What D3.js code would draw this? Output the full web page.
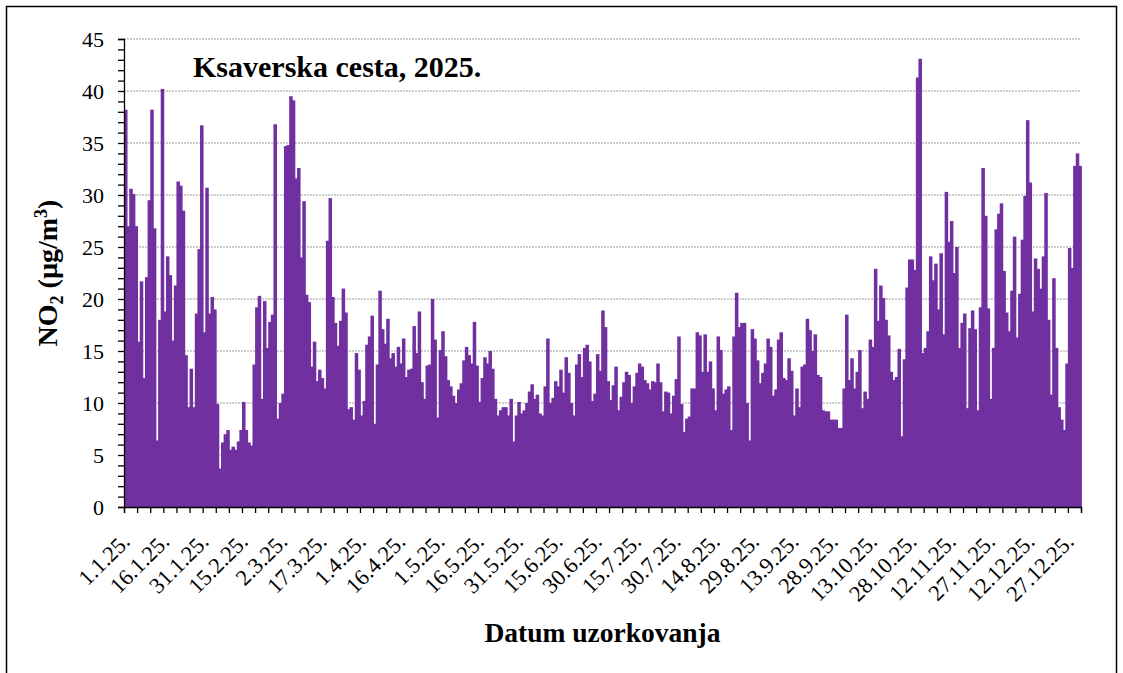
<!DOCTYPE html>
<html>
<head>
<meta charset="utf-8">
<script src="https://cdn.jsdelivr.net/npm/d3@7"></script>
<style>
  body { margin: 0; background: #fff; }
  svg { display: block; font-family: "Liberation Serif", "Times New Roman", serif; }
</style>
</head>
<body>
<script>
// daily NO2 values (µg/m3), one array per month
const jan = [38.2, 27.0, 30.6, 30.1, 27.0, 15.9, 21.7, 12.4, 22.1, 29.5, 38.2, 26.8, 6.4, 18.0, 40.2, 18.8,
  24.1, 22.3, 16.0, 21.3, 31.3, 30.9, 28.5, 14.6, 9.6, 13.3, 9.6, 18.6, 24.8, 36.7, 16.8];
const feb = [30.7, 18.6, 20.2, 19.0, 9.9, 3.7, 6.2, 7.0, 7.4, 5.5, 5.8, 5.5, 6.3, 7.4, 10.1, 7.4, 6.2, 5.9,
  13.7, 19.2, 20.3, 10.4, 19.8, 15.3, 17.8, 18.5, 36.8, 8.5];
const mar = [10.0, 10.9, 34.7, 34.8, 39.5, 39.1, 31.6, 32.6, 24.0, 29.4, 20.4, 19.7, 13.5, 15.9, 12.1, 13.2,
  12.4, 11.4, 25.6, 29.7, 20.2, 17.7, 15.5, 17.9, 21.0, 18.7, 9.4, 9.6, 8.4, 14.8, 13.2];
const apr = [8.8, 10.2, 15.6, 16.4, 18.4, 8.0, 13.7, 20.8, 17.1, 15.7, 18.1, 14.3, 14.8, 13.5, 15.4, 13.8,
  16.2, 12.5, 13.2, 13.3, 17.4, 14.8, 18.8, 12.0, 10.4, 13.6, 13.7, 20.0, 16.1, 8.6];
const may = [15.1, 16.9, 14.5, 12.2, 11.6, 10.7, 10.0, 11.3, 11.9, 14.1, 15.4, 14.6, 13.8, 17.8, 13.6, 10.1,
  12.4, 14.4, 13.8, 15.0, 13.3, 10.4, 8.8, 9.3, 9.6, 9.6, 8.8, 10.4, 6.3, 8.8, 10.1];
const jun = [9.0, 9.3, 10.0, 11.1, 11.8, 10.4, 10.8, 9.0, 8.8, 11.6, 16.2, 10.0, 10.5, 12.1, 11.6, 13.2,
  11.0, 14.4, 12.9, 10.0, 8.8, 13.7, 14.7, 12.5, 15.3, 15.6, 14.0, 10.2, 10.9, 14.7];
const jul = [13.1, 18.9, 17.3, 12.1, 10.3, 11.7, 13.5, 9.3, 10.6, 12.0, 13.0, 12.7, 10.0, 11.6, 12.9, 13.8,
  13.5, 12.2, 11.9, 11.3, 12.1, 12.0, 13.8, 12.0, 9.2, 11.1, 11.0, 9.0, 10.7, 12.3, 16.4];
const aug = [9.9, 7.2, 8.5, 8.7, 11.4, 11.4, 16.8, 16.5, 13.0, 16.6, 13.0, 14.0, 11.4, 9.3, 16.4, 15.1,
  10.9, 11.3, 11.6, 7.4, 16.4, 20.6, 17.3, 17.7, 17.7, 10.0, 6.4, 17.1, 16.2, 14.1, 11.9];
const sep = [12.9, 13.8, 16.2, 15.4, 10.7, 11.3, 16.1, 16.8, 12.4, 12.2, 14.3, 13.1, 8.8, 11.4, 9.6, 13.5,
  13.7, 18.1, 17.0, 15.0, 16.6, 12.7, 12.5, 9.3, 9.2, 9.2, 8.4, 8.4, 8.4, 7.6];
const oct = [7.6, 11.4, 18.5, 12.2, 14.3, 11.4, 13.0, 15.1, 9.5, 11.1, 10.4, 16.1, 15.4, 22.9, 17.9, 21.3,
  20.1, 18.0, 16.5, 13.0, 12.2, 12.5, 15.2, 6.8, 14.2, 21.1, 23.8, 23.8, 22.8, 41.3, 43.1];
const nov = [14.8, 15.3, 16.9, 24.1, 21.8, 23.4, 19.0, 24.4, 16.6, 30.3, 25.5, 27.5, 22.5, 25.0, 15.3, 17.7,
  18.6, 9.5, 17.2, 18.9, 17.1, 9.3, 19.2, 32.6, 28.0, 19.1, 10.4, 15.3, 26.7, 28.2];
const dec = [29.2, 22.7, 18.7, 16.9, 20.8, 26.0, 16.3, 20.5, 25.7, 29.9, 37.2, 31.2, 18.8, 23.9, 22.9, 21.0,
  24.1, 30.2, 18.0, 10.8, 22.0, 15.3, 9.6, 8.4, 7.4, 13.8, 24.9, 23.0, 32.8, 34.0, 32.8];

const tickLabels = ["1.1.25.", "16.1.25.", "31.1.25.", "15.2.25.", "2.3.25.", "17.3.25.", "1.4.25.",
  "16.4.25.", "1.5.25.", "16.5.25.", "31.5.25.", "15.6.25.", "30.6.25.", "15.7.25.", "30.7.25.",
  "14.8.25.", "29.8.25.", "13.9.25.", "28.9.25.", "13.10.25.", "28.10.25.", "12.11.25.", "27.11.25.",
  "12.12.25.", "27.12.25."];
const yTicks = [0, 5, 10, 15, 20, 25, 30, 35, 40, 45];

const values = [jan, feb, mar, apr, may, jun, jul, aug, sep, oct, nov, dec].flat();
const fmt = d3.timeFormat("%-d.%-m.%y.");
const categories = d3.timeDay.range(new Date(2025, 0, 1), new Date(2026, 0, 1)).map(fmt);
const data = categories.map((c, i) => ({ date: c, value: values[i] }));

const w = 1123, h = 673;
const plotLeft = 124, plotRight = 1081, plotTop = 39, plotBottom = 507;

const svg = d3.select("body").append("svg")
  .attr("width", w)
  .attr("height", h);

// outer chart border
svg.append("rect")
  .attr("x", 6.5).attr("y", 6.5)
  .attr("width", 1110).attr("height", 700)
  .attr("fill", "none")
  .attr("stroke", "#000")
  .attr("stroke-width", 1.5);

const x = d3.scaleBand().domain(categories).range([plotLeft, plotRight]).padding(0);
const xi = d3.scaleLinear().domain([0, categories.length]).range([plotLeft, plotRight]);
const y = d3.scaleLinear().domain([0, 45]).range([plotBottom, plotTop]);

// gridlines
svg.append("g")
  .selectAll("line")
  .data(yTicks.filter(d => d > 0))
  .enter()
    .append("line")
    .attr("x1", plotLeft).attr("x2", plotRight)
    .attr("y1", d => y(d)).attr("y2", d => y(d))
    .attr("stroke", "#bdbdbd")
    .attr("stroke-width", 1.5)
    .attr("stroke-dasharray", "2,1");

// bars (slight overlap so neighbouring bars leave no seams)
svg.append("g")
  .selectAll("rect")
  .data(data)
  .enter()
    .append("rect")
    .attr("x", d => x(d.date))
    .attr("y", d => y(d.value))
    .attr("width", x.bandwidth() + 0.9)
    .attr("height", d => y(0) - y(d.value))
    .attr("fill", "#7030a0");

// y axis, minor ticks every 1, labels every 5
const yAxis = svg.append("g")
  .attr("transform", `translate(${plotLeft},0)`)
  .call(d3.axisLeft(y)
    .tickValues(d3.range(0, 46, 1))
    .tickSize(6)
    .tickPadding(14)
    .tickFormat(d => (yTicks.includes(d) ? d : "")));
yAxis.selectAll("path, line").attr("stroke", "#000").attr("stroke-width", 1.3);
yAxis.selectAll("text")
  .attr("font-size", 22)
  .attr("font-family", "Liberation Serif")
  .attr("fill", "#000");

// x axis line with tick marks every 5 days
const xAxis = svg.append("g")
  .attr("transform", `translate(0,${plotBottom})`)
  .call(d3.axisBottom(xi)
    .tickValues(d3.range(0, categories.length + 1, 5))
    .tickSize(6)
    .tickFormat(""));
xAxis.selectAll("path, line").attr("stroke", "#000").attr("stroke-width", 1.3);

// x labels every 15 days, rotated
const xLabels = svg.append("g")
  .attr("transform", `translate(0,${plotBottom})`)
  .call(d3.axisBottom(x).tickValues(tickLabels).tickSize(0));
xLabels.select(".domain").remove();
xLabels.selectAll("text")
  .attr("font-size", 22.5)
  .attr("font-family", "Liberation Serif")
  .attr("fill", "#000")
  .attr("text-anchor", "end")
  .attr("dy", 0)
  .attr("y", 0)
  .attr("transform", "translate(6,36) rotate(-45)");

// chart title
svg.append("text")
  .attr("x", 193)
  .attr("y", 77)
  .attr("font-size", 30)
  .attr("font-weight", "bold")
  .text("Ksaverska cesta, 2025.");

// x axis title
svg.append("text")
  .attr("x", (plotLeft + plotRight) / 2)
  .attr("y", 642)
  .attr("text-anchor", "middle")
  .attr("font-size", 27.5)
  .attr("font-weight", "bold")
  .text("Datum uzorkovanja");

// y axis title with sub/superscript
const yTitle = svg.append("text")
  .attr("transform", `translate(57,${(plotTop + plotBottom) / 2}) rotate(-90)`)
  .attr("text-anchor", "middle")
  .attr("font-size", 28)
  .attr("font-weight", "bold");
yTitle.append("tspan").text("NO");
yTitle.append("tspan").attr("font-size", 18).attr("dy", 6).text("2");
yTitle.append("tspan").attr("dy", -6).text(" (µg/m");
yTitle.append("tspan").attr("font-size", 18).attr("dy", -10).text("3");
yTitle.append("tspan").attr("dy", 10).text(")");
</script>
</body>
</html>
